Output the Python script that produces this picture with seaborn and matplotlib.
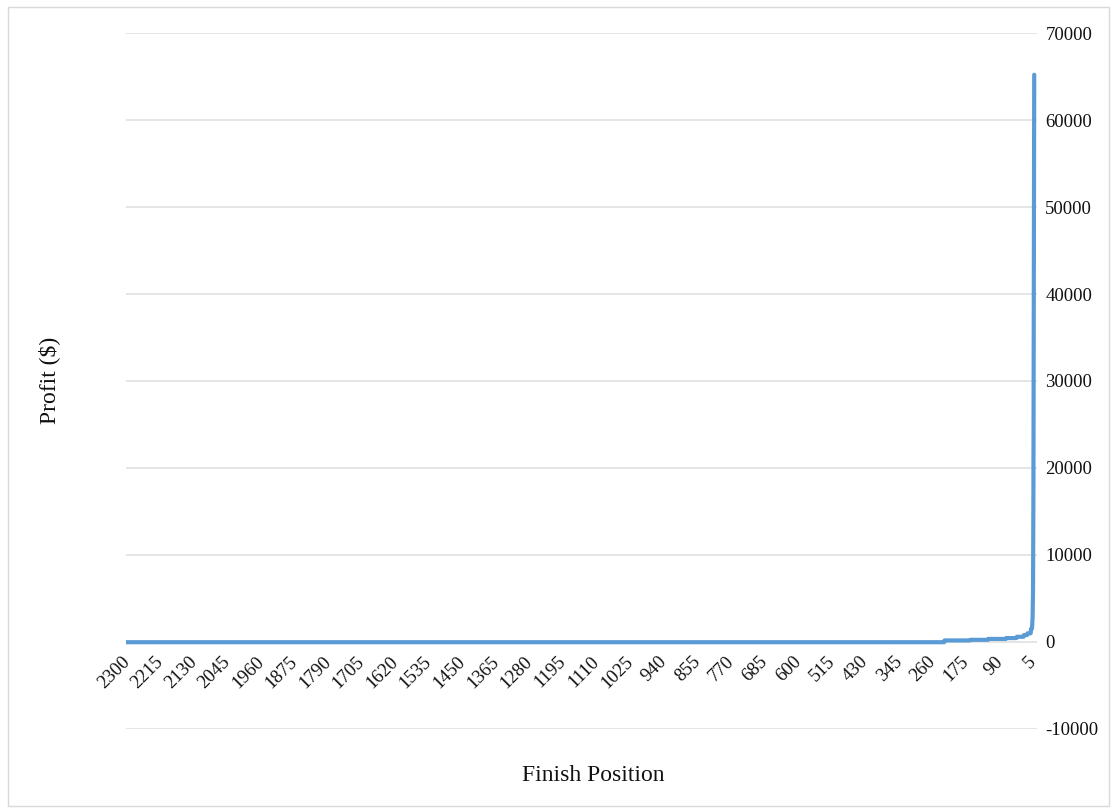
import numpy as np
import pandas as pd
import matplotlib
matplotlib.use("Agg")
import matplotlib.pyplot as plt
import matplotlib.transforms as mtransforms
import seaborn as sns
from matplotlib.patches import Rectangle

# Payout structure: the last finish position of each tier and the profit for that tier
tier_last_position = [1, 2, 3, 4, 5, 6, 9, 18, 27, 45, 72, 117, 162, 228, 2300]
tier_profit = [65200, 38500, 17500, 6000, 3000, 2000, 1500, 1000, 800, 600, 450, 350, 250, 180, -25]

field_size = 2300
tick_step = 85
y_ticks = [-10000, 0, 10000, 20000, 30000, 40000, 50000, 60000, 70000]

# Build one row per finish position, from last place to first
positions = np.arange(field_size, 0, -1)
profit_by_pos = {}
start = 1
for last, val in zip(tier_last_position, tier_profit):
    for p in range(start, last + 1):
        profit_by_pos[p] = val
    start = last + 1
df = pd.DataFrame({
    "order": np.arange(field_size),
    "position": positions,
    "profit": [profit_by_pos[p] for p in positions],
})

sns.set_theme(style="white")
plt.rcParams["font.family"] = ["Liberation Serif", "DejaVu Serif"]

fig = plt.figure(figsize=(11.13, 8.09), dpi=100)
ax = fig.add_axes([0.1132, 0.0989, 0.8185, 0.8603])

sns.lineplot(data=df, x="order", y="profit", ax=ax, color="#5b9bd5",
             linewidth=3.0, solid_joinstyle="round", zorder=3)

ax.set_xlim(0, field_size + 6)
ax.set_ylim(-10000, 70000)
ax.set_yticks(y_ticks)
ax.set_yticklabels([str(v) for v in y_ticks], fontsize=13.5, color="#111111")
ax.yaxis.tick_right()
ax.tick_params(axis="y", length=0, pad=6)
ax.grid(axis="y", color="#dedede", linewidth=1.1)
ax.grid(axis="x", visible=False)

# Category labels sit on the zero line
ax.spines["bottom"].set_position(("data", 0))
tick_idx = np.arange(0, field_size, tick_step)
ax.set_xticks(tick_idx)
ax.set_xticklabels([str(positions[i]) for i in tick_idx], rotation=45,
                   ha="right", rotation_mode="anchor", fontsize=13.5, color="#111111")
ax.tick_params(axis="x", length=0, pad=8)
shift = mtransforms.ScaledTranslation(-5 / 100, 0, fig.dpi_scale_trans)
for lbl in ax.get_xticklabels():
    lbl.set_transform(lbl.get_transform() + shift)

for s in ax.spines.values():
    s.set_visible(False)

ax.set_xlabel("")
ax.set_ylabel("")
fig.text(0.533, 0.042, "Finish Position", ha="center", va="center", fontsize=17, color="#111111")
fig.text(0.044, 0.530, "Profit ($)", ha="center", va="center", rotation=90, fontsize=17, color="#111111")

# Thin frame round the chart
fig.patches.append(Rectangle((8 / 1113, 3 / 809), 1101 / 1113, 799 / 809,
                             transform=fig.transFigure, fill=False,
                             edgecolor="#d9d9d9", linewidth=1.0))

fig.savefig("out.png", dpi=100)
